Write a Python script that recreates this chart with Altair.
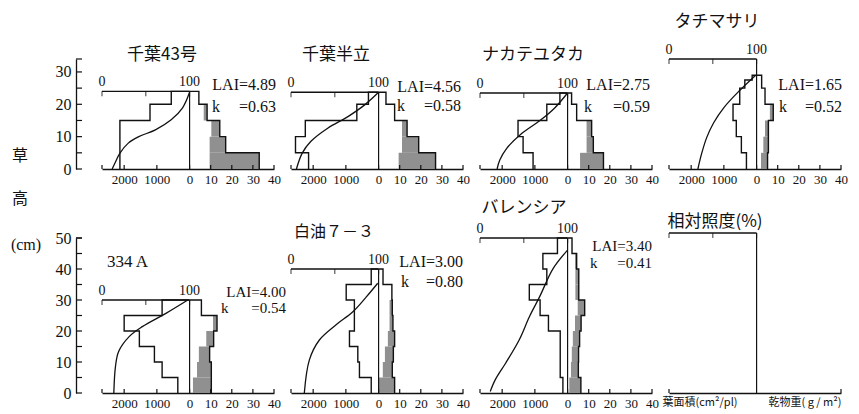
import altair as alt
import pandas as pd

SERIF = "Liberation Serif"
CJK = "Noto Sans CJK JP"
INK = "#111111"
SHADE = "#8a8a8a"

# ---------------- axes ----------------
LEAF_U = 0.0155            # x-units per cm2/pl (left half); right half is g/m2
X_MIN, X_MAX = -41.5, 40.0
leaf_ticks = [2000, 1000]
weight_ticks = [0, 10, 20, 30, 40]
light_ticks = [0, 50, 100]
light_label_vals = [0, 100]
light_label_txt = ["0", "100"]
y_ticks_top = [0, 5, 10, 15, 20, 25, 30]
y_labels_top = [0, 10, 20, 30]
y_ticks_bot = [0, 5, 10, 15, 20, 25, 30, 35, 40, 45, 50]
y_labels_bot = [0, 10, 20, 30, 40, 50]

# ---------------- varieties ----------------
names = ["千葉43号", "千葉半立", "ナカテユタカ", "タチマサリ", "334 A", "白油７－３", "バレンシア"]
lai = ["4.89", "4.56", "2.75", "1.65", "4.00", "3.00", "3.40"]
kval = ["0.63", "0.58", "0.59", "0.52", "0.54", "0.80", "0.41"]
light_axis_h = [24.0, 23.7, 23.5, 34.0, 30.0, 40.0, 50.0]

# layer bounds (cm), leaf area (cm2/pl), leaf dry wt, stem dry wt (g/m2)
bounds_1 = [0, 5, 10, 15, 20, 24]
leaf_1 = [2130, 2130, 2130, 1210, 560]
lw_1 = [9.5, 9.5, 10.3, 6.7, 4.4]
sw_1 = [23.5, 7.6, 4.0, 1.6, 0]
lh_1 = [23.7, 18.9, 15.2, 12.1, 10.0, 8.0, 4.9, 1.8, 0]
li_1 = [100, 92, 79, 61, 42, 30, 20.5, 14.7, 11.6]

bounds_2 = [0, 5, 10, 15, 20, 23.7]
leaf_2 = [2140, 2540, 2240, 665, 310]
lw_2 = [9.5, 11.1, 11.1, 7.6, 3.5]
sw_2 = [17.5, 7.9, 2.4, 0, 0]
lh_2 = [23.7, 19.9, 16.2, 12.6, 8.5, 4.9, 0]
li_2 = [100, 84.5, 65, 41.9, 22.5, 12.8, 6.2]

bounds_3 = [0, 5, 10, 15, 20, 23.5]
leaf_3 = [1055, 1360, 1515, 635, 235]
lw_3 = [5.9, 9.0, 9.0, 4.3, 1.9]
sw_3 = [11.1, 3.2, 2.4, 0, 0]
lh_3 = [23.5, 18.8, 15.2, 10.6, 6.4, 2.8, 0]
li_3 = [100, 85, 69.5, 46, 30.5, 22.6, 19.5]

bounds_4 = [0, 5, 10, 15, 20, 25, 27.5, 29]
leaf_4 = [310, 465, 620, 720, 515, 360, 135]
lw_4 = [2.1, 3.2, 4.0, 6.3, 4.0, 2.4, 2.4]
sw_4 = [3.1, 2.4, 1.6, 1.6, 0, 0, 0]
lh_4 = [29.0, 24.2, 19.0, 14.3, 9.7, 4.5, 0]
li_4 = [99, 80.4, 62.7, 51, 43, 37, 33]

bounds_5 = [0, 5, 10, 15, 20, 25, 30]
leaf_5 = [360, 840, 1075, 1535, 2000, 840]
lw_5 = [1.6, 3.5, 4.4, 7.9, 11.1, 5.6]
sw_5 = [8.7, 6.8, 5.1, 3.5, 1.9, 0]
lh_5 = [30.0, 25.7, 21.4, 18.2, 13.4, 8.6, 0]
li_5 = [98, 73, 46, 31, 19, 15.4, 13.5]

bounds_6 = [0, 5, 10, 15, 20, 25, 30, 35, 40]
leaf_6 = [225, 585, 635, 890, 740, 740, 990, 225]
lw_6 = [0, 2.0, 3.0, 4.4, 5.2, 5.2, 6.3, 2.1]
sw_6 = [7.6, 4.5, 4.0, 3.2, 1.6, 1.3, 0, 0]
lh_6 = [35.4, 31.0, 26.2, 22.0, 17.1, 10.7, 0]
li_6 = [99, 86, 70.6, 51.5, 32.4, 21, 15.2]

bounds_7 = [0, 5, 10, 15, 20, 25, 30, 35, 40, 45, 50]
leaf_7 = [143, 225, 225, 225, 585, 840, 1170, 635, 755, 310]
lw_7 = [0.8, 1.6, 2.0, 2.5, 3.5, 4.8, 3.7, 3.7, 3.5, 2.1]
sw_7 = [5.5, 3.5, 3.2, 3.2, 2.9, 3.3, 1.6, 1.6, 0.8, 0]
lh_7 = [46.1, 40.2, 31.0, 24.6, 17.1, 9.6, 4.3, 0.5]
li_7 = [100, 83.6, 68, 56.4, 44.7, 29.2, 17.5, 11.7]

legend_axis_h = 51.6
legend_title = "相対照度(%)"
legend_xlab = ["葉面積(cm²/pl)", "乾物重( g / m²)"]
ytitle = ["草", "高", "(cm)"]

W = 172
H_TOP, H_BOT = 110, 155
Y_TOP, Y_BOT = 34, 50


def step_df(bounds, vals):
    rows = [{"h": bounds[-1], "v": 0.0, "seq": 0}]
    s = 1
    for i in reversed(range(len(vals))):
        rows.append({"h": bounds[i + 1], "v": vals[i], "seq": s}); s += 1
        rows.append({"h": bounds[i], "v": vals[i], "seq": s}); s += 1
    return pd.DataFrame(rows)


def panel(height, ymax, H, data=None, texts=(), y_labels=None, y_ticks=None, x_labels=True):
    axis_vals = [-v * LEAF_U for v in leaf_ticks] + weight_ticks
    xaxis = alt.Axis(values=axis_vals, labels=x_labels,
                     labelExpr=f"datum.value < 0 ? format(-datum.value/{LEAF_U}, '.0f') : format(datum.value, '.0f')",
                     ticks=False, tickSize=0, grid=False, domainColor=INK, domainWidth=1.3,
                     labelFont=SERIF, labelFontSize=13, labelColor=INK, labelPadding=4,
                     labelFlush=False, labelOverlap=False, title=None)
    if y_labels is not None:
        yaxis = alt.Axis(values=y_labels, offset=26, ticks=False, tickSize=0, grid=False,
                         domainColor=INK, domainWidth=1.3, labelFont=SERIF, labelFontSize=16,
                         labelColor=INK, labelPadding=5, labelFlush=False, labelOverlap=False,
                         title=None)
    else:
        yaxis = None

    def X(f):
        return alt.X(f"{f}:Q", scale=alt.Scale(domain=[X_MIN, X_MAX], nice=False, zero=False),
                     axis=xaxis, title=None)

    def Y(f):
        return alt.Y(f"{f}:Q", scale=alt.Scale(domain=[0, ymax], nice=False, zero=False),
                     axis=yaxis, title=None)

    layers = []
    if data is not None:
        bounds, leaf, lw, sw, lh, li = data
        stem = pd.DataFrame({"b": bounds[:-1], "t": bounds[1:], "lw": lw, "sw": sw})
        stem = stem[stem.sw > 0]
        layers.append(alt.Chart(stem).transform_calculate(u2="datum.lw + datum.sw")
                      .mark_rect(color=SHADE, opacity=0.95)
                      .encode(x=X("lw"), x2="u2:Q", y=Y("b"), y2="t:Q"))
        tot = [a + b for a, b in zip(lw, sw)]
        layers.append(alt.Chart(step_df(bounds, tot)).mark_line(color=INK, strokeWidth=1.4)
                      .encode(x=X("v"), y=Y("h"), order="seq:Q"))
        layers.append(alt.Chart(step_df(bounds, leaf)).transform_calculate(u=f"-datum.v*{LEAF_U}")
                      .mark_line(color=INK, strokeWidth=1.4)
                      .encode(x=X("u"), y=Y("h"), order="seq:Q"))
        light = pd.DataFrame({"h": lh, "light": li, "seq": list(range(len(lh)))})
        layers.append(alt.Chart(light).transform_calculate(u=f"(datum.light/100 - 1)*{-X_MIN}")
                      .mark_line(color=INK, strokeWidth=1.3, interpolate="catmull-rom")
                      .encode(x=X("u"), y=Y("h"), order="seq:Q"))
    frame = pd.DataFrame({"zero": [0.0], "H": [H]})
    layers.append(alt.Chart(frame).mark_rule(color=INK, strokeWidth=1.2)
                  .encode(x=X("zero"), y=Y("zero"), y2="H:Q"))
    top = pd.DataFrame({"l0": [0], "l1": [100], "H": [H]})
    layers.append(alt.Chart(top)
                  .transform_calculate(u0=f"(datum.l0/100 - 1)*{-X_MIN}", u1=f"(datum.l1/100 - 1)*{-X_MIN}")
                  .mark_rule(color=INK, strokeWidth=1.4)
                  .encode(x=X("u0"), x2="u1:Q", y=Y("H")))
    tt = pd.DataFrame({"light": light_ticks, "H": [H] * len(light_ticks)})
    layers.append(alt.Chart(tt).transform_calculate(u=f"(datum.light/100 - 1)*{-X_MIN}")
                  .mark_tick(orient="vertical", size=5, thickness=1.2, yOffset=2.5, color=INK)
                  .encode(x=X("u"), y=Y("H")))
    if data is not None:
        tl = pd.DataFrame({"light": light_label_vals, "lab": light_label_txt, "H": [H] * 2})
        layers.append(alt.Chart(tl).transform_calculate(u=f"(datum.light/100 - 1)*{-X_MIN}")
                      .mark_text(dy=-9, font=SERIF, fontSize=14, color=INK)
                      .encode(x=X("u"), y=Y("H"), text="lab:N"))
        bt = pd.DataFrame({"u": [X_MIN] + axis_vals})
    else:
        bt = pd.DataFrame({"u": [X_MIN, X_MAX]})
    layers.append(alt.Chart(bt).mark_rule(color=INK, strokeWidth=1.2)
                  .encode(x=X("u"), y=alt.value(height), y2=alt.value(height - 4)))
    if y_ticks is not None:
        yt = pd.DataFrame({"h": y_ticks + [ymax]})
        layers.append(alt.Chart(yt).mark_rule(color=INK, strokeWidth=1.2)
                      .encode(y=Y("h"), x=alt.value(-26), x2=alt.value(-20)))
    for (s, x, y, font, size, align) in texts:
        layers.append(alt.Chart(pd.DataFrame({"t": [s]}))
                      .mark_text(font=font, fontSize=size, align=align, baseline="middle", color=INK)
                      .encode(x=alt.value(x), y=alt.value(y), text="t:N"))
    return alt.layer(*layers).properties(width=W, height=height)


def lai_texts(i, xl, xr, y1, y2, size=16):
    return [(f"LAI={lai[i]}", xr, y1, SERIF, size, "right"),
            ("k", xl, y2, SERIF, size, "left"),
            (f"={kval[i]}", xr, y2, SERIF, size, "right")]


p1 = panel(H_TOP, Y_TOP, light_axis_h[0], (bounds_1, leaf_1, lw_1, sw_1, lh_1, li_1),
           texts=[(names[0], 60, -4, CJK, 17, "center"),
                  (ytitle[0], -82, 97, CJK, 16, "center"),
                  (ytitle[1], -82, 140, CJK, 16, "center")] + lai_texts(0, 110, 174, 26, 48),
           y_labels=y_labels_top, y_ticks=y_ticks_top)
p2 = panel(H_TOP, Y_TOP, light_axis_h[1], (bounds_2, leaf_2, lw_2, sw_2, lh_2, li_2),
           texts=[(names[1], 45, -4, CJK, 17, "center")] + lai_texts(1, 106, 170, 28, 47))
p3 = panel(H_TOP, Y_TOP, light_axis_h[2], (bounds_3, leaf_3, lw_3, sw_3, lh_3, li_3),
           texts=[(names[2], 53, -4, CJK, 17, "center")] + lai_texts(2, 104, 170, 26, 48))
p4 = panel(H_TOP, Y_TOP, light_axis_h[3], (bounds_4, leaf_4, lw_4, sw_4, lh_4, li_4),
           texts=[(names[3], 48, -37, CJK, 17, "center")] + lai_texts(3, 110, 173, 26, 48))
p5 = panel(H_BOT, Y_BOT, light_axis_h[4], (bounds_5, leaf_5, lw_5, sw_5, lh_5, li_5),
           texts=[(names[4], 5, 24, SERIF, 17, "left"),
                  (ytitle[2], -76, 7, SERIF, 16, "center")] + lai_texts(4, 119, 184, 54, 70, 15),
           y_labels=y_labels_bot, y_ticks=y_ticks_bot)
p6 = panel(H_BOT, Y_BOT, light_axis_h[5], (bounds_6, leaf_6, lw_6, sw_6, lh_6, li_6),
           texts=[(names[5], 43, -6, CJK, 16, "center")] + lai_texts(5, 110, 172, 24, 44))
p7 = panel(H_BOT, Y_BOT, light_axis_h[6], (bounds_7, leaf_7, lw_7, sw_7, lh_7, li_7),
           texts=[(names[6], 44, -30, CJK, 17, "center")] + lai_texts(6, 110, 172, 8, 25, 15))
p8 = panel(H_BOT, Y_BOT, legend_axis_h, None,
           texts=[(legend_title, 46, -16, CJK, 17, "center"),
                  (legend_xlab[0], 31, 165, CJK, 11, "center"),
                  (legend_xlab[1], 136, 165, CJK, 11, "center")],
           x_labels=False)

chart = (alt.concat(p1, p2, p3, p4, p5, p6, p7, p8, columns=4,
                    spacing={"row": 69, "column": 17}, bounds="flush", align="each")
         .properties(padding={"left": 2, "top": 5, "right": 0, "bottom": 0})
         .configure(font=SERIF, background="white")
         .configure_view(stroke=None))

chart.save("out.html", embed_options={"renderer": "svg", "actions": False})
